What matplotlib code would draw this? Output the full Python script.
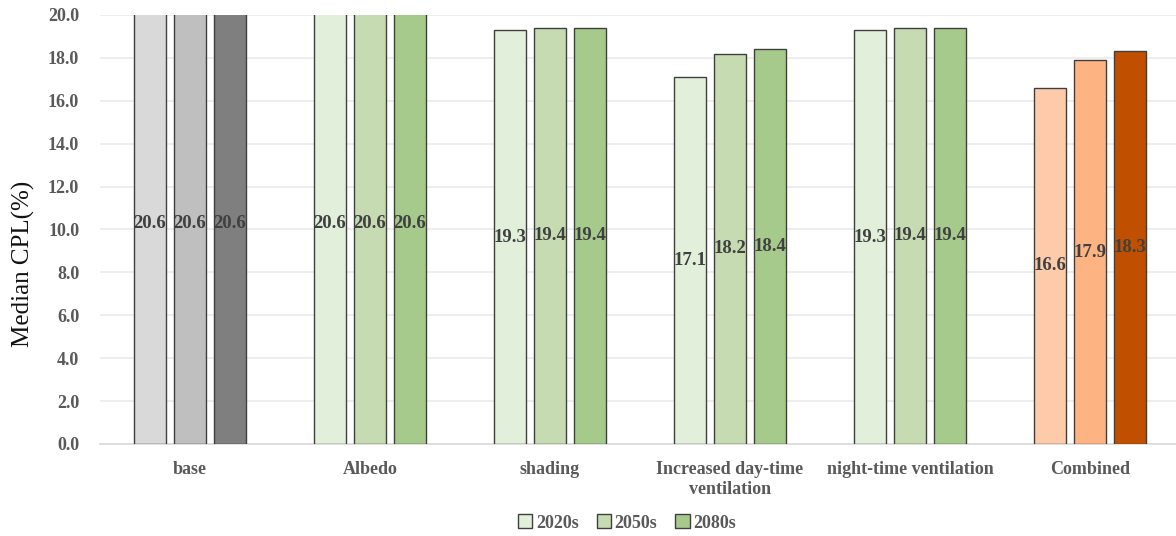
import matplotlib
matplotlib.use("Agg")
import matplotlib.pyplot as plt
from matplotlib.patches import Patch
import numpy as np

# median CPL for each measure and period
groups = ["base", "Albedo", "shading", "Increased day-time\nventilation",
          "night-time ventilation", "Combined"]
periods = ["2020s", "2050s", "2080s"]
v2020 = [20.6, 20.6, 19.3, 17.1, 19.3, 16.6]
v2050 = [20.6, 20.6, 19.4, 18.2, 19.4, 17.9]
v2080 = [20.6, 20.6, 19.4, 18.4, 19.4, 18.3]

grey = ["#D9D9D9", "#BFBFBF", "#7F7F7F"]
green = ["#E2EFDA", "#C6DBB1", "#A6CA8C"]
orange = ["#FDCBAA", "#FDB482", "#C05000"]
group_colors = [grey, green, green, green, green, orange]

plt.rcParams["font.family"] = ["Liberation Serif", "DejaVu Serif"]

fig = plt.figure(figsize=(11.76, 5.36), dpi=100)
ax = fig.add_axes([100 / 1176, 1 - 444 / 536, 1 - 100 / 1176, (444 - 15) / 536])

x = np.arange(len(groups))
w = 0.178
step = 0.222
series = [v2020, v2050, v2080]
for k, vals in enumerate(series):
    for i, v in enumerate(vals):
        xi = x[i] + (k - 1) * step
        ax.bar(xi, v, width=w, color=group_colors[i][k], edgecolor="#3f3f3f",
               linewidth=1.0, zorder=3)
        ax.text(xi, v / 2, f"{v:.1f}", ha="center", va="center", fontsize=13.5,
                fontweight="bold", color="#404040", zorder=4)

ax.set_ylim(0, 20)
ax.set_xlim(-0.5, 5.5 - 4 / 180)
ax.set_yticks(np.arange(0, 20.1, 2))
ax.set_yticklabels([f"{t:.1f}" for t in np.arange(0, 20.1, 2)])
ax.set_xticks(x)
ax.set_xticklabels(groups, linespacing=1.25)
for lab in ax.get_xticklabels() + ax.get_yticklabels():
    lab.set_fontweight("bold")
    lab.set_color("#595959")
    lab.set_fontsize(13)
ax.tick_params(length=0)
ax.tick_params(axis="y", pad=15)
ax.tick_params(axis="x", pad=12)
ax.grid(axis="y", color="#EBEBEB", linewidth=1.2, zorder=0)
for s in ["top", "right", "left"]:
    ax.spines[s].set_visible(False)
ax.spines["bottom"].set_color("#D9D9D9")
ax.spines["bottom"].set_linewidth(1.2)
ax.set_ylabel("Median CPL(%)", fontsize=18, color="#111111")
ax.yaxis.set_label_coords(-0.06, 0.42)

handles = [Patch(facecolor=green[k], edgecolor="#3f3f3f", label=p)
           for k, p in enumerate(periods)]
leg = fig.legend(handles=handles, loc="center", bbox_to_anchor=(627 / 1176, 1 - 523 / 536),
                 ncol=3, frameon=False, handlelength=0.8, handleheight=0.8,
                 handletextpad=0.2, columnspacing=1.0,
                 prop={"weight": "bold", "size": 13})
for t in leg.get_texts():
    t.set_color("#595959")

fig.savefig("out.png", dpi=100)
